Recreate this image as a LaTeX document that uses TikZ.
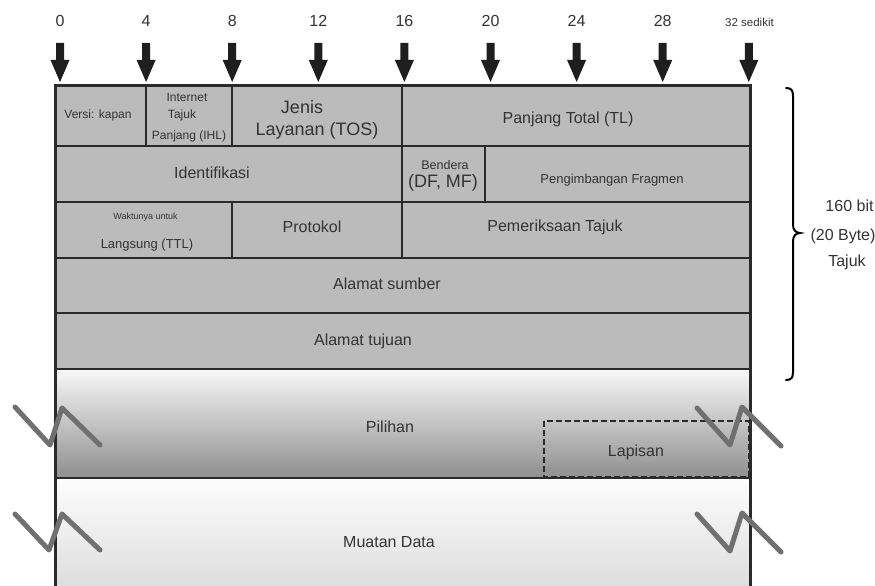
\documentclass[tikz,border=0pt]{standalone}
\usepackage{fontspec}
\setmainfont{Liberation Sans}
\definecolor{cellfill}{HTML}{BBBBBB}
\definecolor{bordercol}{HTML}{2A2A2A}
\definecolor{txt}{HTML}{333333}
\definecolor{zigcol}{HTML}{707070}
\definecolor{arrowcol}{HTML}{1E1E1E}
\begin{document}
\begin{tikzpicture}[x=1pt,y=-1pt,
  lbl/.style={text=txt, inner sep=0pt, anchor=center},
  fa/.style={font=\fontsize{9}{11}\selectfont},
  fb/.style={font=\fontsize{12}{14}\selectfont},
  fc/.style={font=\fontsize{13}{15}\selectfont},
  fd/.style={font=\fontsize{16}{19}\selectfont},
  fe/.style={font=\fontsize{18}{21}\selectfont},
  grid/.style={draw=bordercol, line width=2.5pt},
  outer/.style={draw=bordercol, line width=3pt},
  zig/.style={draw=zigcol, line width=5pt, line cap=round, line join=round},
  bitarrow/.style={fill=arrowcol},
  bracepath/.style={draw=black, line width=2pt, line cap=round}
]
\useasboundingbox (0,0) rectangle (875,586);
% fills
\fill[cellfill] (55,85) rectangle (750,369);
\shade[top color=black!3, bottom color=black!44] (55,369) rectangle (750,478);
\shade[top color=black!1, bottom color=black!13] (55,478) rectangle (750,586);
% dashed padding box
\draw[draw=bordercol, line width=1.8pt, dash pattern=on 6pt off 3pt] (544,421) rectangle (749,477);
% horizontal grid lines
\foreach \yy in {146,202,258,313,369,478} { \draw[grid] (55,\yy) -- (750,\yy); }
% vertical grid lines
\foreach \xx in {146,232,402} { \draw[grid] (\xx,85) -- (\xx,146); }
\foreach \xx in {402,485} { \draw[grid] (\xx,146) -- (\xx,202); }
\foreach \xx in {232,402} { \draw[grid] (\xx,202) -- (\xx,258); }
% outer frame
\draw[outer] (55,586) -- (55,85) -- (750,85) -- (750,586);
% bit arrows and numbers
\foreach \i/\lab in {0/0,1/4,2/8,3/12,4/16,5/20,6/24,7/28} {
  \pgfmathsetmacro{\ax}{60+86.1*\i}
  \fill[bitarrow] (\ax-4,43) -- (\ax+4,43) -- (\ax+4,60) -- (\ax+9.5,60) -- (\ax,82) -- (\ax-9.5,60) -- (\ax-4,60) -- cycle;
  \node[lbl,fd] (num\i) at (\ax,21) {\lab};
}
\pgfmathsetmacro{\ax}{60+86.1*8}
\fill[bitarrow] (\ax-4,43) -- (\ax+4,43) -- (\ax+4,60) -- (\ax+9.5,60) -- (\ax,82) -- (\ax-9.5,60) -- (\ax-4,60) -- cycle;
\node[lbl,font=\fontsize{11.5}{13}\selectfont] (num8) at (749.5,22) {32 sedikit};
% brace
\draw[bracepath] (786,88) .. controls (791,88) and (793,90) .. (793,96) -- (793,225) .. controls (793,230) and (796,233) .. (800,233) .. controls (796,233) and (793,236) .. (793,241) -- (793,372) .. controls (793,378) and (791,380) .. (786,380);
\node[lbl,fd] (b1) at (849.5,206) {160 bit};
\node[lbl,fd] (b2) at (843,236) {(20 Byte)};
\node[lbl,fd] (b3) at (847,262) {Tajuk};
% zigzags
\draw[zig] (15,407) -- (50,445) -- (62,408) -- (100,445);
\draw[zig] (15,514) -- (49,550) -- (62,514) -- (100,550);
\draw[zig] (697,408) -- (730,445) -- (742,407) -- (781,446);
\draw[zig] (697,514) -- (730,551) -- (742,513) -- (781,552);
% row 1
\node[lbl,fb] (ver) at (98,115) {Versi: kapan};
\node[lbl,fb] (ihl1) at (187,97) {Internet};
\node[lbl,fb] (ihl2) at (182,115) {Tajuk};
\node[lbl,fb] (ihl3) at (189,136) {Panjang (IHL)};
\node[lbl,fe] (tos1) at (302,107) {Jenis};
\node[lbl,fe] (tos2) at (317,131) {Layanan (TOS)};
\node[lbl,fd] (tl) at (568,119) {Panjang Total (TL)};
% row 2
\node[lbl,fd] (ident) at (212,173) {Identifikasi};
\node[lbl,font=\fontsize{12.5}{14}\selectfont] (flag1) at (445,165) {Bendera};
\node[lbl,fe] (flag2) at (443,183) {(DF, MF)};
\node[lbl,fc] (frag) at (612,180) {Pengimbangan Fragmen};
% row 3
\node[lbl,fa] (ttl1) at (145.5,217) {Waktunya untuk};
\node[lbl,fc] (ttl2) at (147,245) {Langsung (TTL)};
\node[lbl,fd] (proto) at (312,227) {Protokol};
\node[lbl,fd] (chk) at (555,227) {Pemeriksaan Tajuk};
% rows 4-5
\node[lbl,fd] (src) at (387,284) {Alamat sumber};
\node[lbl,fd] (dst) at (363,341) {Alamat tujuan};
% options / data
\node[lbl,fd] (opt) at (390,427) {Pilihan};
\node[lbl,fd] (pad) at (636,452) {Lapisan};
\node[lbl,fd] (data) at (389,542) {Muatan Data};
\end{tikzpicture}
\end{document}
